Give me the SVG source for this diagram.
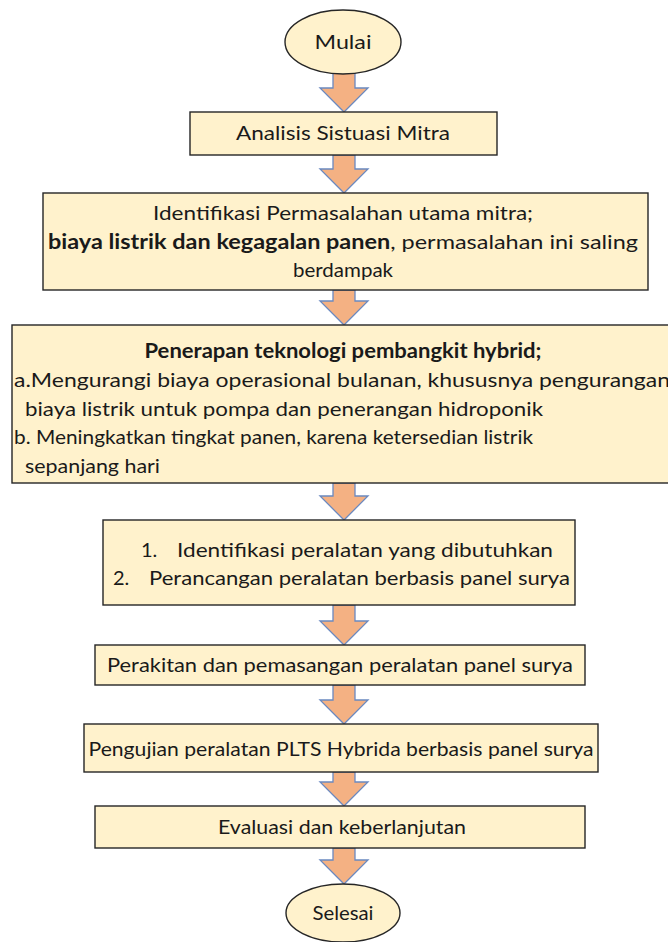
<svg xmlns="http://www.w3.org/2000/svg" width="668" height="942" viewBox="0 0 668 942">
<style>
.bg{fill:#ffffff}
.box{fill:#FFF2CC;stroke:#262626;stroke-width:1.4}
.arr{fill:#F4B183;stroke:#6A89C0;stroke-width:1.3;stroke-linejoin:miter}
text{font-family:Lato,"Open Sans","Liberation Sans",sans-serif;font-size:20px;fill:#1a1a1a}
.c{text-anchor:middle}
.b{font-weight:bold}
</style>
<rect class="bg" x="0" y="0" width="668" height="942"/>
<g id="connectors">
<path class="arr" d="M333,73 H355 V88 H368 L344,112 L320,88 H333 Z"/>
<path class="arr" d="M333,155 H355 V169 H368 L344,193 L320,169 H333 Z"/>
<path class="arr" d="M333,290 H355 V301 H368 L344,325 L320,301 H333 Z"/>
<path class="arr" d="M333,483 H355 V496 H368 L344,520 L320,496 H333 Z"/>
<path class="arr" d="M333,605 H355 V621 H368 L344,645 L320,621 H333 Z"/>
<path class="arr" d="M333,685 H355 V700 H368 L344,724 L320,700 H333 Z"/>
<path class="arr" d="M333,772 H355 V782 H368 L344,806 L320,782 H333 Z"/>
<path class="arr" d="M333,848 H355 V860 H368 L344,884 L320,860 H333 Z"/>
</g>
<g id="mulai">
<ellipse class="box" cx="343" cy="42" rx="58" ry="32"/>
<text class="c" x="343" y="49" textLength="57" lengthAdjust="spacingAndGlyphs">Mulai</text>
</g>
<g id="analisis">
<rect class="box" x="190" y="112" width="307" height="43"/>
<text class="c" x="343" y="140" textLength="214" lengthAdjust="spacingAndGlyphs">Analisis Sistuasi Mitra</text>
</g>
<g id="identifikasi">
<rect class="box" x="43" y="193" width="605" height="97"/>
<text class="c" x="343" y="220" textLength="380" lengthAdjust="spacingAndGlyphs">Identifikasi Permasalahan utama mitra;</text>
<text x="48" y="249" textLength="590" lengthAdjust="spacingAndGlyphs"><tspan class="b">biaya listrik dan kegagalan panen</tspan>, permasalahan ini saling</text>
<text class="c" x="343" y="277" textLength="100" lengthAdjust="spacingAndGlyphs">berdampak</text>
</g>
<g id="penerapan">
<rect class="box" x="12" y="325" width="670" height="158"/>
<text class="c b" x="343" y="358" textLength="397" lengthAdjust="spacingAndGlyphs">Penerapan teknologi pembangkit hybrid;</text>
<text x="14" y="387" textLength="656" lengthAdjust="spacingAndGlyphs">a.Mengurangi biaya operasional bulanan, khususnya pengurangan</text>
<text x="25" y="416" textLength="518" lengthAdjust="spacingAndGlyphs">biaya listrik untuk pompa dan penerangan hidroponik</text>
<text x="14" y="444" textLength="519" lengthAdjust="spacingAndGlyphs">b. Meningkatkan tingkat panen, karena ketersedian listrik</text>
<text x="25" y="473" textLength="135" lengthAdjust="spacingAndGlyphs">sepanjang hari</text>
</g>
<g id="perancangan">
<rect class="box" x="103" y="520" width="472" height="85"/>
<text x="141" y="557">1.</text>
<text x="177" y="557" textLength="376" lengthAdjust="spacingAndGlyphs">Identifikasi peralatan yang dibutuhkan</text>
<text x="113" y="585">2.</text>
<text x="149" y="585" textLength="421" lengthAdjust="spacingAndGlyphs">Perancangan peralatan berbasis panel surya</text>
</g>
<g id="perakitan">
<rect class="box" x="95" y="645" width="490" height="40"/>
<text class="c" x="340" y="672" textLength="466" lengthAdjust="spacingAndGlyphs">Perakitan dan pemasangan peralatan panel surya</text>
</g>
<g id="pengujian">
<rect class="box" x="84" y="724" width="514" height="48"/>
<text class="c" x="341" y="756" textLength="505" lengthAdjust="spacingAndGlyphs">Pengujian peralatan PLTS Hybrida berbasis panel surya</text>
</g>
<g id="evaluasi">
<rect class="box" x="95" y="806" width="490" height="42"/>
<text class="c" x="342" y="834" textLength="248" lengthAdjust="spacingAndGlyphs">Evaluasi dan keberlanjutan</text>
</g>
<g id="selesai">
<ellipse class="box" cx="343" cy="913" rx="57" ry="29"/>
<text class="c" x="343" y="920" textLength="61" lengthAdjust="spacingAndGlyphs">Selesai</text>
</g>
</svg>
